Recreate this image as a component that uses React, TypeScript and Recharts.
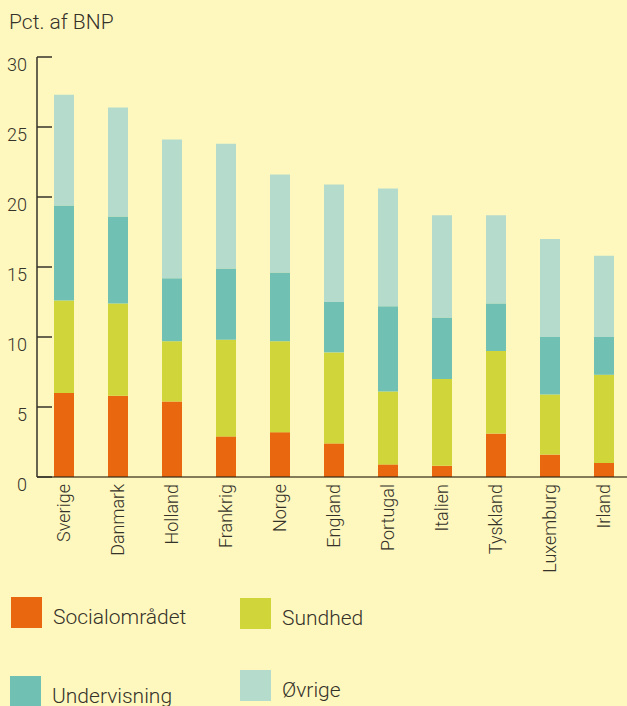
import React from 'react'
import { BarChart, Bar, XAxis, YAxis } from 'recharts'

const countries = ['Sverige', 'Danmark', 'Holland', 'Frankrig', 'Norge', 'England', 'Portugal', 'Italien', 'Tyskland', 'Luxemburg', 'Irland']
const social = [6.0, 5.8, 5.4, 2.9, 3.2, 2.4, 0.9, 0.8, 3.1, 1.6, 1.0]
const sundhed = [6.6, 6.6, 4.3, 6.9, 6.5, 6.5, 5.2, 6.2, 5.9, 4.3, 6.3]
const undervisning = [6.8, 6.2, 4.5, 5.1, 4.9, 3.6, 6.1, 4.4, 3.4, 4.1, 2.7]
const ovrige = [7.9, 7.8, 9.9, 8.9, 7.0, 8.4, 8.4, 7.3, 6.3, 7.0, 5.8]
const yTicks = [0, 5, 10, 15, 20, 25, 30]

const series = [
  { key: 'social', name: 'Socialområdet', color: '#E9670E' },
  { key: 'sundhed', name: 'Sundhed', color: '#D0D63A' },
  { key: 'undervisning', name: 'Undervisning', color: '#70C1B3' },
  { key: 'ovrige', name: 'Øvrige', color: '#B4DBCB' },
]

// legend placement (same order as series)
const legendPos = [
  { left: 11, top: 597 },
  { left: 240, top: 598 },
  { left: 10, top: 676 },
  { left: 240, top: 670 },
]

const data = countries.map((name, i) => ({
  name,
  social: social[i],
  sundhed: sundhed[i],
  undervisning: undervisning[i],
  ovrige: ovrige[i],
}))

const BG = '#FEF8BE'
const INK = '#35322a'
const FONT = 'Roboto, sans-serif'

const YTick = ({ x, y, payload }: any) => (
  <g>
    <line x1={x} x2={x + 15} y1={y} y2={y} stroke={INK} strokeWidth={1.5} />
    <text x={x - 10} y={y} dy={14} textAnchor="end" fontSize={18} fill={INK} fontFamily={FONT} fontWeight={300}>
      {payload.value}
    </text>
  </g>
)

const XTick = ({ x, y, payload }: any) => (
  <text
    x={x}
    y={y}
    dy="0.35em"
    transform={`rotate(-90 ${x} ${y})`}
    textAnchor="end"
    fontSize={18}
    fill={INK}
    fontFamily={FONT}
    fontWeight={300}
  >
    {payload.value}
  </text>
)

export default function App() {
  return (
    <div
      style={{
        position: 'absolute',
        left: 0,
        top: 0,
        width: 627,
        height: 706,
        overflow: 'hidden',
        background: BG,
        fontFamily: FONT,
        fontWeight: 300,
        color: INK,
      }}
    >
      <div style={{ position: 'absolute', left: 9, top: 12, fontSize: 21, lineHeight: '21px', whiteSpace: 'nowrap' }}>
        Pct. af BNP
      </div>
      <BarChart width={640} height={706} data={data} margin={{ top: 57, right: 9, bottom: 129, left: 0 }}>
        <XAxis
          dataKey="name"
          interval={0}
          height={100}
          tickLine={false}
          tickSize={0}
          tickMargin={7}
          axisLine={{ stroke: 'rgba(50,40,20,0.6)', strokeWidth: 2 }}
          tick={<XTick />}
        />
        <YAxis
          width={37}
          domain={[0, 30]}
          ticks={yTicks}
          interval={0}
          tickLine={false}
          tickSize={0}
          tickMargin={0}
          axisLine={{ stroke: INK, strokeWidth: 1.5 }}
          tick={<YTick />}
        />
        {series.map((s) => (
          <Bar key={s.key} dataKey={s.key} name={s.name} stackId="a" barSize={20} fill={s.color} isAnimationActive={false} />
        ))}
      </BarChart>
      {series.map((s, i) => (
        <div key={s.key} style={{ position: 'absolute', left: legendPos[i].left, top: legendPos[i].top }}>
          <div style={{ width: 31, height: 31, background: s.color }} />
          <div
            style={{
              position: 'absolute',
              left: 42,
              top: 10,
              fontSize: 21,
              lineHeight: '21px',
              whiteSpace: 'nowrap',
            }}
          >
            {s.name}
          </div>
        </div>
      ))}
    </div>
  )
}
